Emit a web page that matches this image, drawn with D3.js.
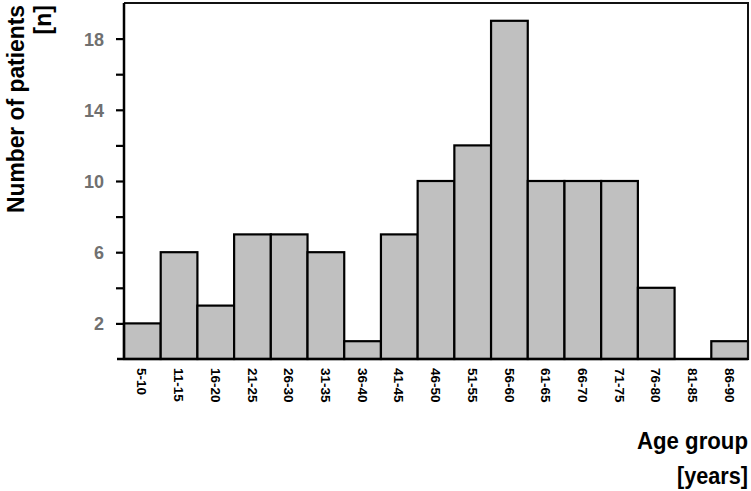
<!DOCTYPE html>
<html><head><meta charset="utf-8">
<script src="https://cdn.jsdelivr.net/npm/d3@7"></script>
<style>body{margin:0;background:#fff}svg{display:block}</style>
</head><body><svg id="c" width="751" height="491"></svg>
<script>
const categories = ["5-10","11-15","16-20","21-25","26-30","31-35","36-40","41-45","46-50","51-55","56-60","61-65","66-70","71-75","76-80","81-85","86-90"];
const values = [2,6,3,7,7,6,1,7,10,12,19,10,10,10,4,0,1];
const yTicks = [2,4,6,8,10,12,14,16,18];
const yLabels = [2,6,10,14,18];

const svg = d3.select("#c");
const m = {l:124, r:748, t:3, b:359};
const x = d3.scaleBand().domain(categories).range([m.l, m.r]).padding(0);
const y = d3.scaleLinear().domain([0,20]).range([m.b, m.t]);
const font = "'Liberation Sans', Arial, sans-serif";

// bars
svg.append("g").selectAll("rect").data(values).join("rect")
  .attr("x", (d,i)=>x(categories[i]))
  .attr("y", d=>y(d))
  .attr("width", x.bandwidth())
  .attr("height", d=>y(0)-y(d))
  .attr("fill", "#c0c0c0")
  .attr("stroke", d=>d>0?"#000":"none")
  .attr("stroke-width", 2.2);

// frame top/right
svg.append("path").attr("d", `M${m.l},${m.t}H${m.r}V${m.b}`)
  .attr("fill","none").attr("stroke","#111").attr("stroke-width",2);

// y axis
const ya = d3.axisLeft(y).tickValues(yTicks).tickSize(8)
  .tickFormat(d=>yLabels.includes(d)?d:"");
const yg = svg.append("g").attr("transform",`translate(${m.l},0)`).call(ya);
yg.select(".domain").attr("d",`M0,${m.t}V${m.b}`).attr("stroke","#000").attr("stroke-width",2.5);
yg.selectAll(".tick line").attr("stroke","#000").attr("stroke-width",2.2);
yg.selectAll(".tick text").attr("x",-20).attr("dy","0.36em")
  .attr("font-family",font).attr("font-weight","bold").attr("font-size",18).attr("fill","#707070");

// x axis
const xa = d3.axisBottom(x).tickSize(0);
const xg = svg.append("g").attr("transform",`translate(0,${m.b})`).call(xa);
xg.select(".domain").attr("d",`M${m.l-7},0H${m.r}`).attr("stroke","#000").attr("stroke-width",2.5);
xg.selectAll(".tick text")
  .attr("transform","rotate(90)")
  .attr("x",9).attr("y",0).attr("dy","0.36em")
  .attr("text-anchor","start")
  .attr("font-family",font).attr("font-weight","bold").attr("font-size",13.5).attr("fill","#000");

// y title
const yt = svg.append("g").attr("transform","rotate(-90)")
  .attr("font-family",font).attr("font-weight","bold").attr("font-size",23).attr("text-anchor","end").attr("fill","#000");
yt.append("text").attr("x",-5).attr("y",24).attr("textLength",208).attr("lengthAdjust","spacingAndGlyphs").text("Number of patients");
yt.append("text").attr("x",-5).attr("y",51).text("[n]");

// x title
const xt = svg.append("g").attr("font-family",font).attr("font-weight","bold").attr("font-size",23).attr("text-anchor","end");
xt.append("text").attr("x",748).attr("y",449).attr("textLength",111).attr("lengthAdjust","spacingAndGlyphs").text("Age group");
xt.append("text").attr("x",748).attr("y",484).attr("textLength",71).attr("lengthAdjust","spacingAndGlyphs").text("[years]");
</script></body></html>
